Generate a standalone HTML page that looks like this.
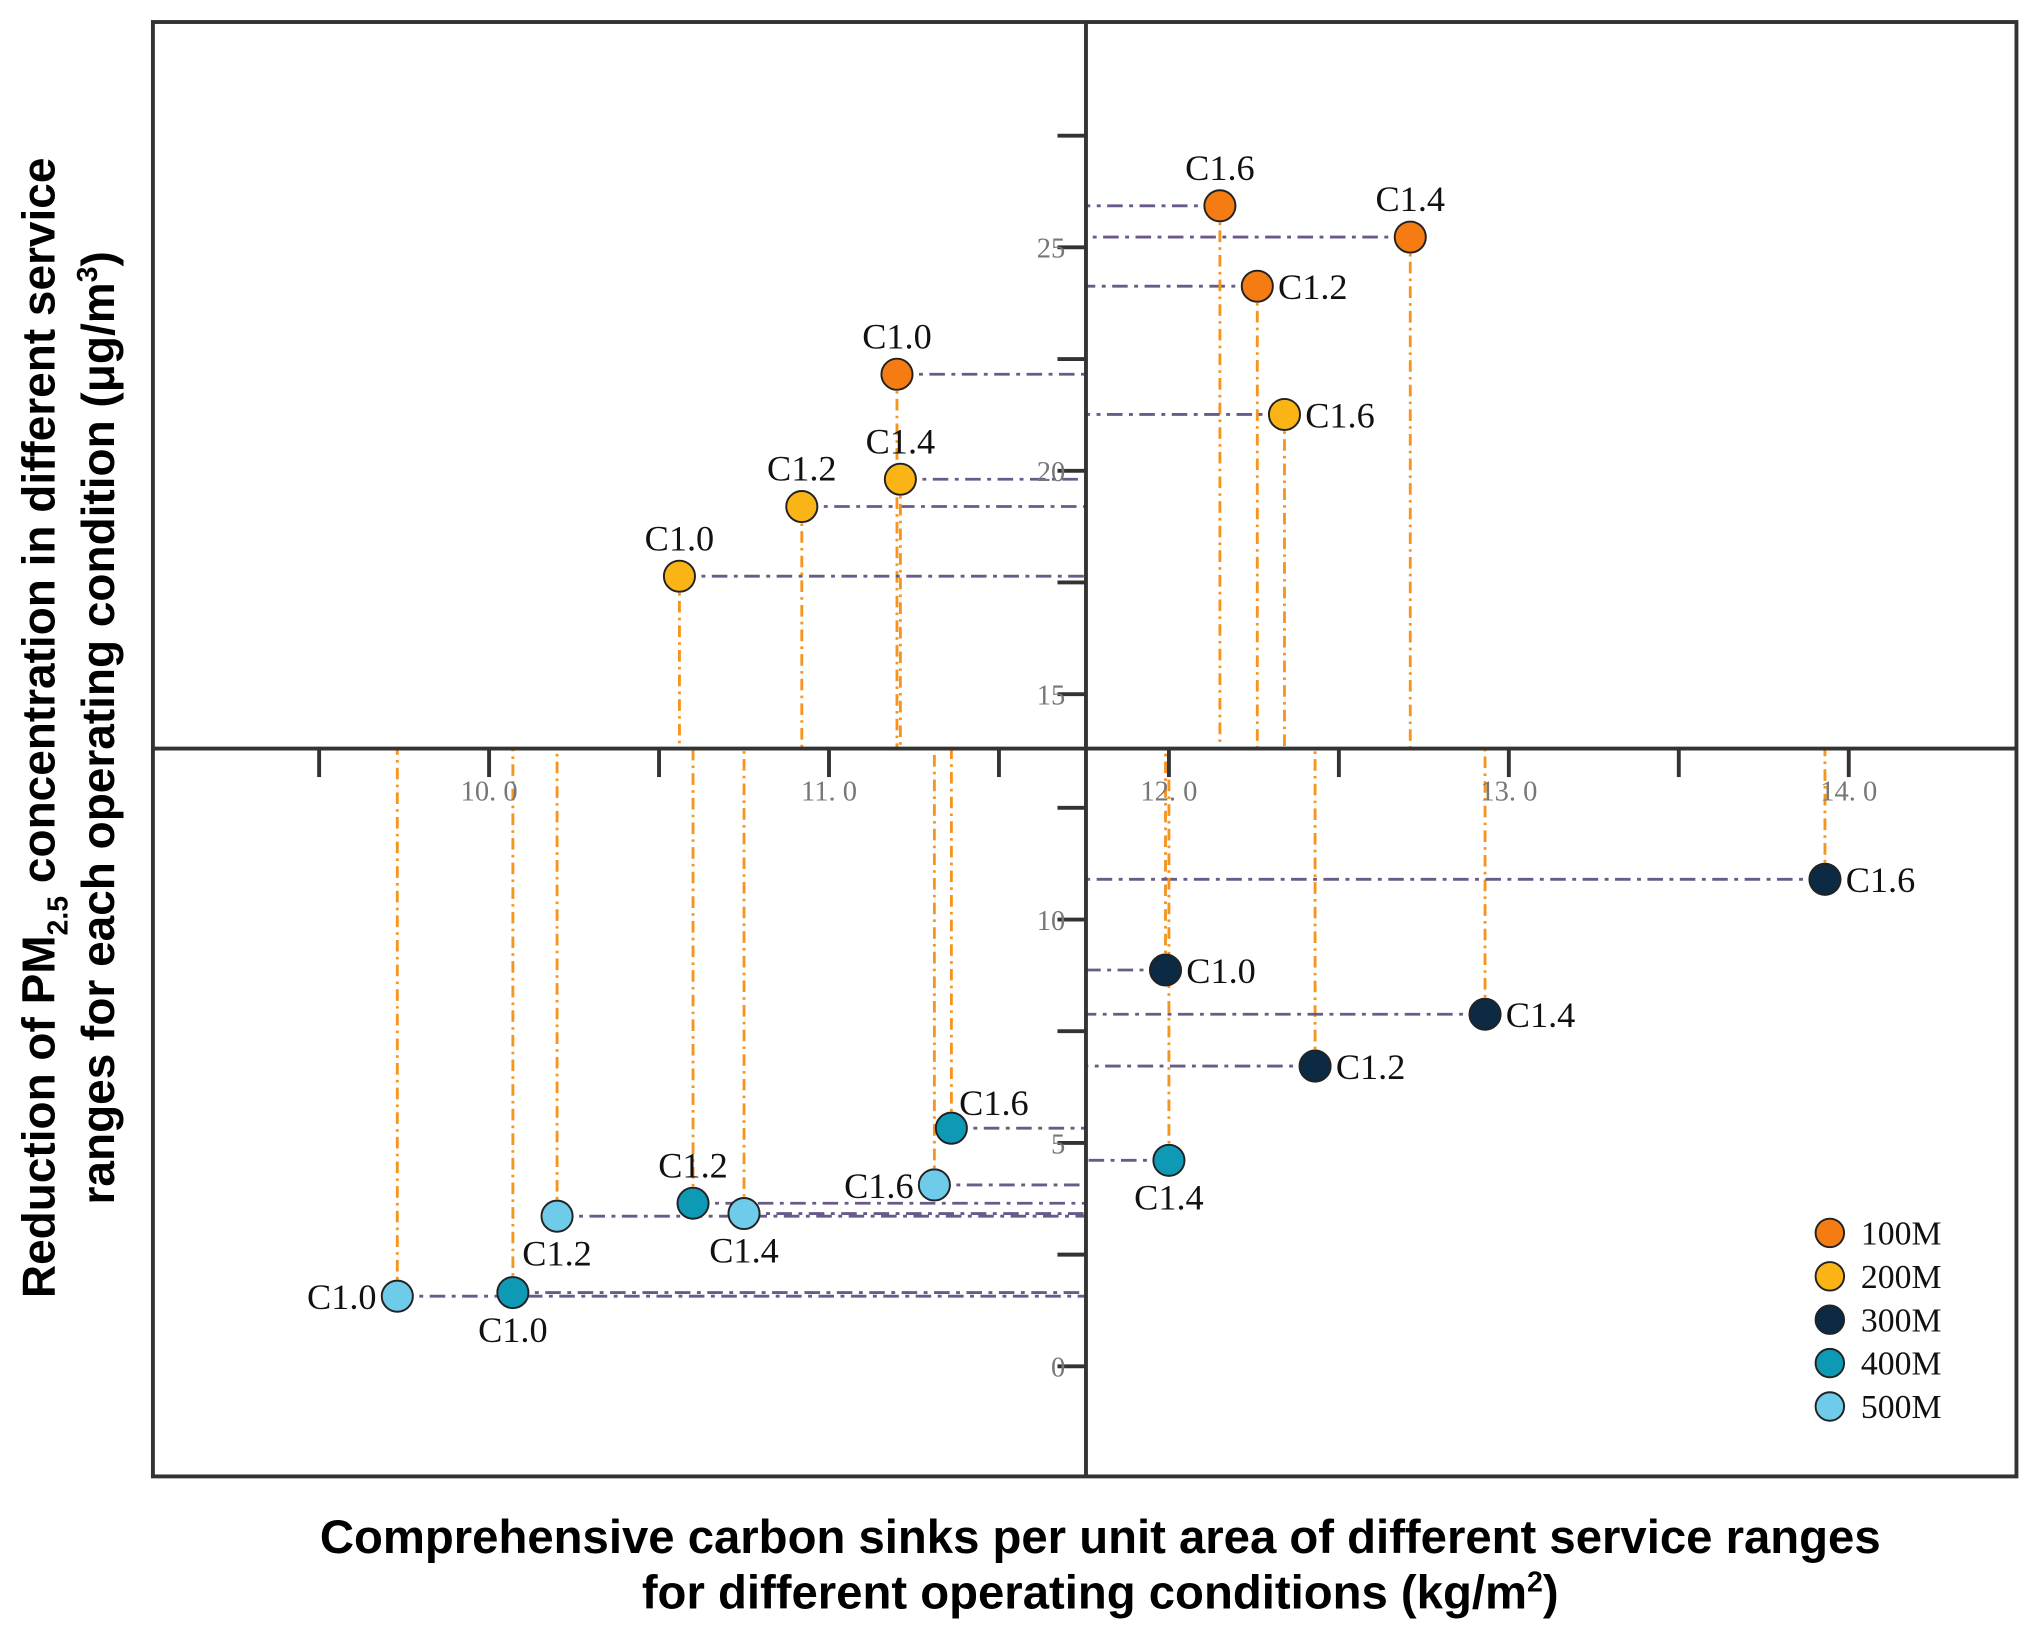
<!DOCTYPE html>
<html><head><meta charset="utf-8"><style>
html,body{margin:0;padding:0;background:#fff}
svg{display:block}
</style></head><body>
<svg id="chart" width="2032" height="1637" viewBox="0 0 1568 1264" preserveAspectRatio="none" xmlns="http://www.w3.org/2000/svg">
<rect x="0" y="0" width="1568" height="1264" fill="#fff"/>
<rect x="118" y="17" width="1438" height="1123" fill="none" stroke="#333" stroke-width="3"/>
<g id="guides"></g>
<g id="axes"></g>
<g id="points"></g>
<g id="legend"></g>
<text x="849" y="1199" text-anchor="middle" font-family="Liberation Sans, sans-serif" font-weight="bold" font-size="36.5">Comprehensive carbon sinks per unit area of different service ranges</text>
<text x="849" y="1242" text-anchor="middle" font-family="Liberation Sans, sans-serif" font-weight="bold" font-size="36.5">for different operating conditions (kg/m<tspan font-size="22" dy="-13">2</tspan><tspan dy="13">)</tspan></text>
<g transform="translate(42,562) rotate(-90)">
<text x="0" y="0" text-anchor="middle" font-family="Liberation Sans, sans-serif" font-weight="bold" font-size="35.5">Reduction of PM<tspan font-size="22" dy="10">2.5</tspan><tspan dy="-10"> concentration in different service</tspan></text>
<text x="0" y="46" text-anchor="middle" font-family="Liberation Sans, sans-serif" font-weight="bold" font-size="35.5">ranges for each operating condition (μg/m<tspan font-size="22" dy="-13">3</tspan><tspan dy="13">)</tspan></text>
</g>
</svg>
<script>
const seriesNames = ['100M','200M','300M','400M','500M'];
const conditions = ['C1.0','C1.2','C1.4','C1.6'];
// x: carbon sinks (kg/m2)
const x100 = [11.20, 12.26, 12.71, 12.15];
const x200 = [10.56, 10.92, 11.21, 12.34];
const x300 = [11.99, 12.43, 12.93, 13.93];
const x400 = [10.07, 10.60, 12.00, 11.36];
const x500 = [9.73, 10.20, 10.75, 11.31];
// y: PM2.5 reduction (ug/m3)
const y100 = [22.16, 24.13, 25.23, 25.93];
const y200 = [17.64, 19.20, 19.81, 21.26];
const y300 = [8.87, 6.72, 7.88, 10.90];
const y400 = [1.65, 3.65, 4.61, 5.33];
const y500 = [1.57, 3.36, 3.42, 4.06];
const xTicks = [10.0, 11.0, 12.0, 13.0, 14.0];
const xMinorTicks = [9.5, 10.5, 11.5, 12.5, 13.5];
const yTopTicks = [15, 20, 25];
const yTopMinor = [17.5, 22.5, 27.5];
const yBotTicks = [0, 5, 10];
const yBotMinor = [2.5, 7.5, 12.5];

const colors = ['#f47c12','#fbb416','#0c2a44','#0e9ab5','#6fcbea'];
const labelPos = [['above','right','above','above'],['above','above','above','right'],['right','right','right','right'],['below','above','below','aboveright'],['left','below','below','left']];
const AX = 838, AY = 578;
function sx(v){ return 902 + (v - 12) * 262.3; }
function syTop(v){ return 191 - (v - 25) * 34.5; }
function syBot(v){ return 1055 - v * 34.5; }
const NS = 'http://www.w3.org/2000/svg';
function mk(tag, attrs, parent){ const e = document.createElementNS(NS, tag); for (const k in attrs) e.setAttribute(k, attrs[k]); parent.appendChild(e); return e; }
const gAxes = document.getElementById('axes'), gGuides = document.getElementById('guides'), gPts = document.getElementById('points'), gLeg = document.getElementById('legend');

let l = mk('line', {x1:118, y1:AY, x2:1556, y2:AY, stroke:'#333', 'stroke-width':3}, gAxes);


l = mk('line', {x1:AX, y1:17, x2:AX, y2:1140, stroke:'#333', 'stroke-width':3}, gAxes);


xTicks.concat(xMinorTicks).forEach(v => {
  const t = mk('line', {x1:sx(v), y1:AY, x2:sx(v), y2:AY+22, stroke:'#333', 'stroke-width':3}, gAxes);
  
  
});
xTicks.forEach(v => {
  const t = mk('text', {x:sx(v), y:AY+40, 'text-anchor':'middle', 'font-family':'Liberation Serif, serif', 'font-size':22, fill:'#777'}, gAxes);
  t.textContent = v.toFixed(1).replace('.', '. ');
  
  
});
function yAxisTicks(major, minor, f){
  major.concat(minor).forEach(v => {
    const t = mk('line', {x1:AX-22, y1:f(v), x2:AX, y2:f(v), stroke:'#333', 'stroke-width':3}, gAxes);
    
    
  });
  major.forEach(v => {
    const t = mk('text', {x:AX-16, y:f(v)+8, 'text-anchor':'end', 'font-family':'Liberation Serif, serif', 'font-size':22, fill:'#777'}, gAxes);
    t.textContent = String(v);
    
    
  });
}
yAxisTicks(yTopTicks, yTopMinor, syTop);
yAxisTicks(yBotTicks, yBotMinor, syBot);

const xs = [x100, x200, x300, x400, x500], ys = [y100, y200, y300, y400, y500];
xs.forEach((xa, si) => {
  const top = si < 2; const fy = top ? syTop : syBot;
  xa.forEach((xv, i) => {
    const px = sx(xv), py = fy(ys[si][i]);
    const v = mk('line', {x1:px, y1:py, x2:px, y2:AY, stroke:'#f7941d', 'stroke-width':2.2, 'stroke-dasharray':'9 4 2 4'}, gGuides);
    
    
    const h = mk('line', {x1:px, y1:py, x2:AX, y2:py, stroke:'#6a5a8a', 'stroke-width':2.2, 'stroke-dasharray':'12 5 3 5'}, gGuides);
    
    
  });
});
xs.forEach((xa, si) => {
  const top = si < 2; const fy = top ? syTop : syBot;
  xa.forEach((xv, i) => {
    const px = sx(xv), py = fy(ys[si][i]);
    const c = mk('circle', {cx:px, cy:py, r:12, fill:colors[si], stroke:'#222', 'stroke-width':1.5}, gPts);
    
    
    const pos = labelPos[si][i];
    let lx = px, ly = py, anchor = 'middle';
    if (pos === 'above') { ly = py - 20; }
    else if (pos === 'below') { ly = py + 38; }
    else if (pos === 'right') { lx = px + 16; ly = py + 10; anchor = 'start'; }
    else if (pos === 'left') { lx = px - 16; ly = py + 10; anchor = 'end'; }
    else if (pos === 'aboveright') { lx = px + 6; ly = py - 10; anchor = 'start'; }
    const t = mk('text', {x:lx, y:ly, 'text-anchor':anchor, 'font-family':'Liberation Serif, serif', 'font-size':28, fill:'#111'}, gPts);
    t.textContent = conditions[i];
    
    
  });
});
seriesNames.forEach((n, si) => {
  const y = 952 + si * 33.5;
  const c = mk('circle', {cx:1412, cy:y, r:11, fill:colors[si], stroke:'#222', 'stroke-width':1.5}, gLeg);
  
  
  const t = mk('text', {x:1436, y:y+9, 'font-family':'Liberation Serif, serif', 'font-size':26, fill:'#111'}, gLeg);
  t.textContent = n;
  
  
});
</script>
</body></html>
